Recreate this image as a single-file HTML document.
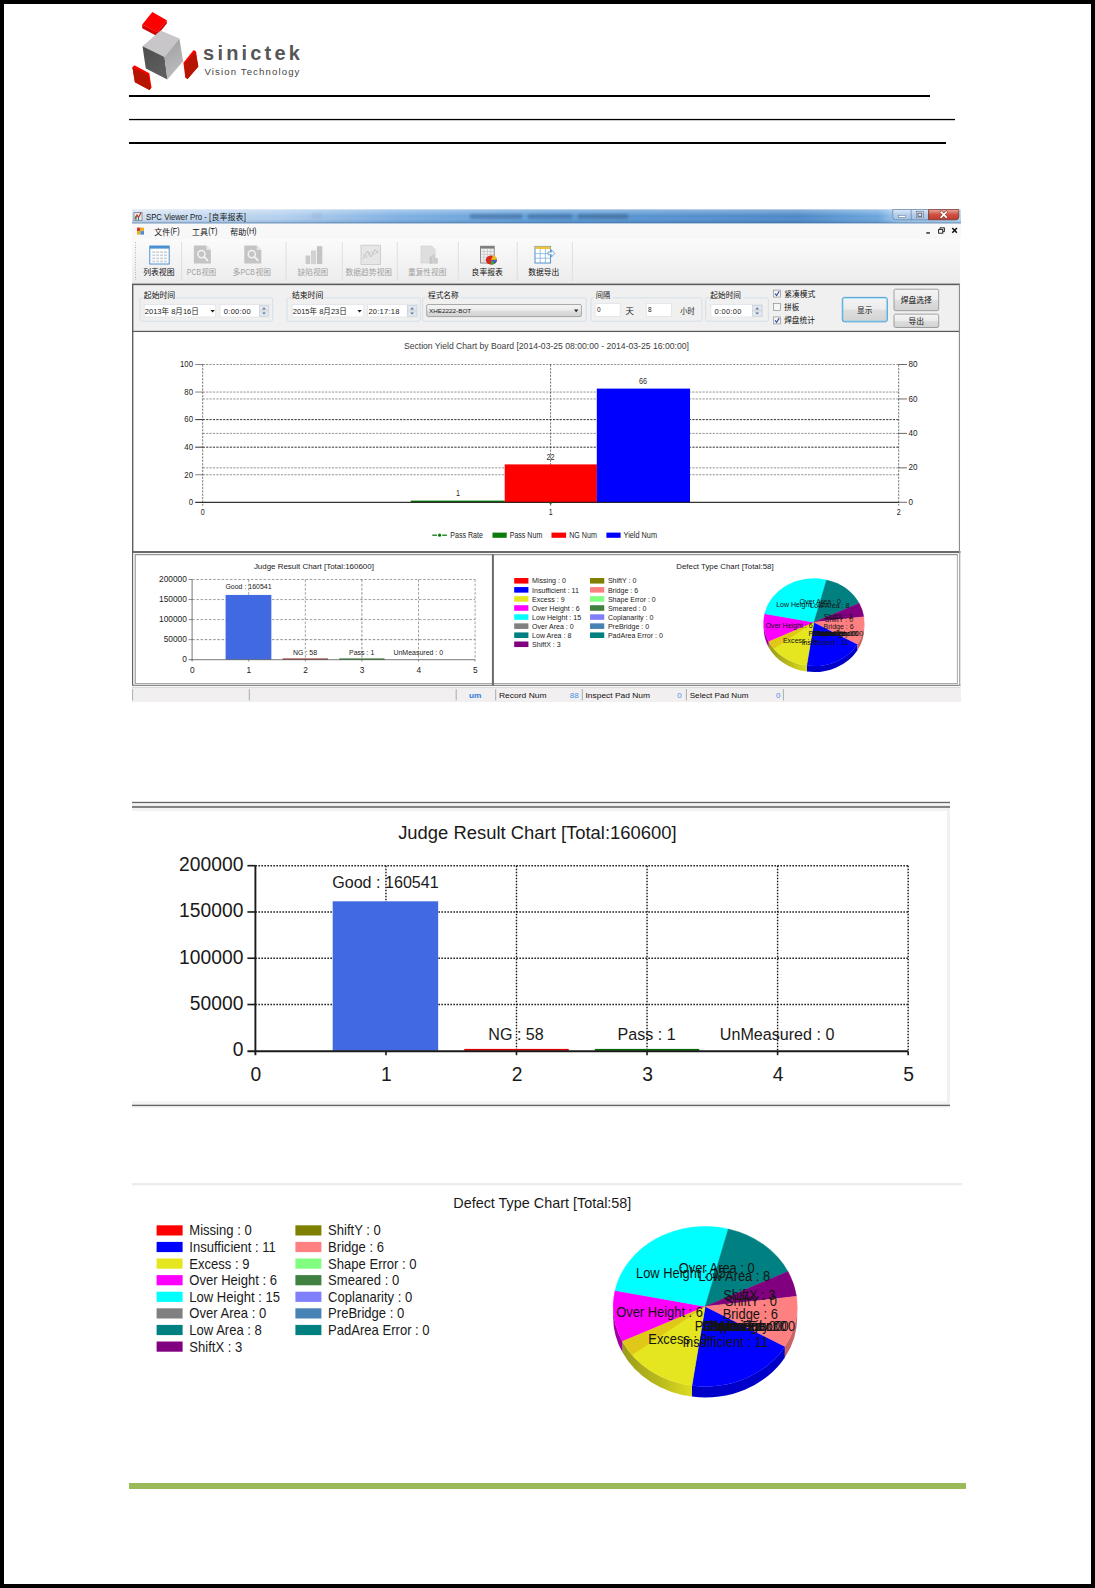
<!DOCTYPE html>
<html lang="zh"><head><meta charset="utf-8"><title>SPC Viewer Pro</title>
<style>
html,body{margin:0;padding:0;background:#fff}
body{width:1095px;height:1588px;position:relative;overflow:hidden;font-family:"Liberation Sans","Noto Sans CJK SC",sans-serif}
#frame{position:absolute;left:0;top:0;width:1095px;height:1588px;box-sizing:border-box;border:4px solid #000}
svg{position:absolute;left:0;top:0;font-family:"Liberation Sans","Noto Sans CJK SC",sans-serif}
svg text{white-space:pre}
</style></head><body>
<div id="frame"></div>
<svg width="1095" height="1588" viewBox="0 0 1095 1588">
<g id="logo">
<polygon points="142.20,24.40 142.20,28.20 156.80,35.90 166.80,23.60 166.80,20.30 157.10,32.00" fill="#d40000" />
<polygon points="152.40,12.10 166.80,20.30 157.10,32.20 142.20,24.40" fill="#ff0000" />
<defs><linearGradient id="cubeR" x1="0" y1="0" x2="0.3" y2="1"><stop offset="0" stop-color="#9e9d9f"/><stop offset="1" stop-color="#bcbbbd"/></linearGradient><linearGradient id="cubeL" x1="0" y1="0" x2="0.4" y2="1"><stop offset="0" stop-color="#4e4e4f"/><stop offset="1" stop-color="#5e5e5f"/></linearGradient></defs>
<polygon points="142.50,46.30 160.50,30.50 179.40,38.60 164.50,56.90" fill="#c8c6c8" />
<polygon points="142.50,46.30 164.50,56.90 167.40,79.40 145.80,68.60" fill="url(#cubeL)" />
<polygon points="164.50,56.90 179.40,38.60 183.10,61.30 167.40,79.40" fill="url(#cubeR)" />
<polygon points="132.40,67.20 134.50,65.20 149.30,73.20 151.50,87.60 149.50,89.90 134.90,82.30" fill="#ff0000" />
<polygon points="132.40,67.20 148.20,75.00 150.60,88.60 149.50,89.90 134.90,82.30" fill="#b51500" />
<polygon points="193.70,50.10 196.00,51.40 198.30,66.40 187.60,79.00 185.30,77.50 183.40,62.70" fill="#ff0000" />
<polygon points="195.30,51.80 198.30,66.40 187.60,79.00 185.50,77.60 184.60,63.60" fill="#b51500" />
<text x="203.10" y="59.80" font-size="20" fill="#565656" font-weight="bold" textLength="96.80" lengthAdjust="spacing">sinictek</text>
<text x="204.40" y="75.00" font-size="9.6" fill="#444" textLength="95.00" lengthAdjust="spacing">Vision Technology</text>
</g>
<rect x="129.00" y="95.00" width="801.00" height="2.00" fill="#000" />
<rect x="129.00" y="118.90" width="826.00" height="1.30" fill="#000" />
<rect x="129.00" y="142.00" width="817.00" height="2.00" fill="#000" />
<rect x="129.00" y="1483.00" width="837.00" height="6.00" fill="#9bbb59" />
<g id="app">
<defs>
<linearGradient id="tbar" x1="0" y1="0" x2="1" y2="0">
<stop offset="0" stop-color="#d3e2f3"/><stop offset="0.18" stop-color="#b4d0ee"/><stop offset="0.32" stop-color="#7fb1e3"/>
<stop offset="0.5" stop-color="#5b9ad6"/><stop offset="0.8" stop-color="#4b87c6"/><stop offset="0.9" stop-color="#6aa5dc"/><stop offset="0.925" stop-color="#a5cdf0"/><stop offset="1" stop-color="#b8d8f4"/>
</linearGradient>
<linearGradient id="tbarv" x1="0" y1="0" x2="0" y2="1"><stop offset="0" stop-color="#fff" stop-opacity="0.35"/><stop offset="0.5" stop-color="#fff" stop-opacity="0"/><stop offset="1" stop-color="#1c4f8a" stop-opacity="0.25"/></linearGradient>
<linearGradient id="tool" x1="0" y1="0" x2="0" y2="1"><stop offset="0" stop-color="#fbfbfb"/><stop offset="1" stop-color="#ececec"/></linearGradient>
<linearGradient id="btn" x1="0" y1="0" x2="0" y2="1"><stop offset="0" stop-color="#f4f4f4"/><stop offset="0.48" stop-color="#ececec"/><stop offset="0.52" stop-color="#dedede"/><stop offset="1" stop-color="#d2d2d2"/></linearGradient>
<linearGradient id="closeb" x1="0" y1="0" x2="0" y2="1"><stop offset="0" stop-color="#e9a99b"/><stop offset="0.5" stop-color="#cf5040"/><stop offset="1" stop-color="#c03a2b"/></linearGradient>
<linearGradient id="capb" x1="0" y1="0" x2="0" y2="1"><stop offset="0" stop-color="#dbe9f7"/><stop offset="0.5" stop-color="#b3cde9"/><stop offset="1" stop-color="#a4c2e2"/></linearGradient>
<filter id="blur1" x="-5%" y="-50%" width="110%" height="200%"><feGaussianBlur stdDeviation="0.9"/></filter>
</defs>
<rect x="132.00" y="209.50" width="829.00" height="492.50" fill="#f0f0f0" />
<rect x="132.00" y="209.50" width="829.00" height="13.50" fill="url(#tbar)" />
<rect x="132.00" y="209.50" width="829.00" height="13.50" fill="url(#tbarv)" />
<line x1="132.00" y1="223.20" x2="961.00" y2="223.20" stroke="#3b6ea5" stroke-width="0.8" />
<g filter="url(#blur1)" opacity="0.55"><rect x="470.00" y="214.00" width="52.00" height="5.00" fill="#41699a" /><rect x="528.00" y="214.00" width="44.00" height="5.00" fill="#41699a" /><rect x="578.00" y="214.00" width="50.00" height="5.00" fill="#3f638f" /><rect x="312.00" y="213.00" width="10.00" height="6.00" fill="#9db9dc" /></g>
<rect x="133.50" y="212.00" width="9.00" height="9.00" fill="#8a8f98" /><rect x="134.50" y="213.00" width="7.00" height="7.00" fill="#e9edf2" />
<path d="M135 219 l2 -4 l1.5 2.5 l2.5 -5" stroke="#c0392b" stroke-width="1.2" fill="none"/>
<line x1="136.00" y1="220.00" x2="136.00" y2="216.00" stroke="#2e7d32" stroke-width="1" /><line x1="138.50" y1="220.00" x2="138.50" y2="217.50" stroke="#1565c0" stroke-width="1" />
<text transform="translate(146.00 219.50) scale(0.865 1)" font-size="9" fill="#1a1a1a">SPC Viewer Pro - [</text>
<text x="211.60" y="219.60" font-size="8" fill="#1a1a1a" textLength="32.00" lengthAdjust="spacingAndGlyphs">良率报表</text>
<text transform="translate(243.80 219.50) scale(0.865 1)" font-size="9" fill="#1a1a1a">]</text>
<path d="M892.7 209.5 h36 v10.3 h-33 q-3 0 -3 -3 z" fill="url(#capb)" stroke="#5d7fa6" stroke-width="0.7"/>
<line x1="911.20" y1="209.50" x2="911.20" y2="219.80" stroke="#5d7fa6" stroke-width="0.7" />
<path d="M928.6 209.5 h30.2 v7.3 q0 3 -3 3 h-27.2 z" fill="url(#closeb)" stroke="#6b2c25" stroke-width="0.7"/>
<rect x="898.50" y="215.30" width="7.00" height="2.00" fill="#fff" stroke="#53688a" stroke-width="0.5"/>
<rect x="916.40" y="211.60" width="7.00" height="6.20" fill="#fff" stroke="#46556d" stroke-width="0.5"/><rect x="917.90" y="213.10" width="4.00" height="3.20" fill="#dfe9f5" stroke="#3a4a63" stroke-width="0.9"/>
<path d="M941.2 212.2 l5 5 M946.2 212.2 l-5 5" stroke="#7a2a22" stroke-width="2.6" stroke-linecap="square"/><path d="M941.2 212.2 l5 5 M946.2 212.2 l-5 5" stroke="#fff" stroke-width="1.7" stroke-linecap="square"/>
<rect x="132.00" y="223.60" width="829.00" height="15.00" fill="#f8f8f9" />
<rect x="137.00" y="227.60" width="3.50" height="3.50" fill="#d23a2a" /><rect x="140.50" y="227.60" width="3.50" height="3.50" fill="#e8b21d" /><rect x="137.00" y="231.10" width="3.50" height="3.50" fill="#e8b21d" /><rect x="140.50" y="231.10" width="3.50" height="3.50" fill="#4a88d8" />
<text x="154.20" y="234.60" font-size="8" fill="#111" textLength="16.00" lengthAdjust="spacingAndGlyphs">文件</text>
<text transform="translate(170.40 234.40) scale(0.800 1)" font-size="9" fill="#111">(F)</text>
<text x="192.00" y="234.60" font-size="8" fill="#111" textLength="16.00" lengthAdjust="spacingAndGlyphs">工具</text>
<text transform="translate(208.20 234.40) scale(0.800 1)" font-size="9" fill="#111">(T)</text>
<text x="230.30" y="234.60" font-size="8" fill="#111" textLength="16.00" lengthAdjust="spacingAndGlyphs">帮助</text>
<text transform="translate(246.50 234.40) scale(0.800 1)" font-size="9" fill="#111">(H)</text>
<rect x="926.30" y="232.30" width="3.60" height="1.30" fill="#111" />
<rect x="938.60" y="229.60" width="4.20" height="3.60" fill="none" stroke="#111" stroke-width="0.9"/><path d="M940 229.4 v-1.6 h4.4 v3.8 h-1.4" stroke="#111" stroke-width="0.9" fill="none"/>
<path d="M952.3 228 l4.6 4.8 M956.9 228 l-4.6 4.8" stroke="#111" stroke-width="1.5"/>
<rect x="132.00" y="238.60" width="829.00" height="45.20" fill="url(#tool)" />
<line x1="135.50" y1="242.00" x2="135.50" y2="280.00" stroke="#9a9a9a" stroke-width="0.8" stroke-dasharray="0.9 1.6"/>
<line x1="181.60" y1="242.00" x2="181.60" y2="281.00" stroke="#dcdcdc" stroke-width="0.9" />
<line x1="286.10" y1="242.00" x2="286.10" y2="281.00" stroke="#dcdcdc" stroke-width="0.9" />
<line x1="342.30" y1="242.00" x2="342.30" y2="281.00" stroke="#dcdcdc" stroke-width="0.9" />
<line x1="397.30" y1="242.00" x2="397.30" y2="281.00" stroke="#dcdcdc" stroke-width="0.9" />
<line x1="458.30" y1="242.00" x2="458.30" y2="281.00" stroke="#dcdcdc" stroke-width="0.9" />
<line x1="517.20" y1="242.00" x2="517.20" y2="281.00" stroke="#dcdcdc" stroke-width="0.9" />
<line x1="572.40" y1="242.00" x2="572.40" y2="281.00" stroke="#dcdcdc" stroke-width="0.9" />
<rect x="149.80" y="246.00" width="19.40" height="18.00" fill="#fdfdfd" stroke="#3f86c8" stroke-width="0.9"/>
<rect x="149.80" y="246.00" width="19.40" height="2.60" fill="#4a90d2" />
<rect x="152.30" y="251.30" width="2.90" height="1.70" fill="#c9d3dc" />
<rect x="156.20" y="251.30" width="2.90" height="1.70" fill="#c9d3dc" />
<rect x="160.10" y="251.30" width="2.90" height="1.70" fill="#c9d3dc" />
<rect x="164.00" y="251.30" width="2.90" height="1.70" fill="#c9d3dc" />
<rect x="152.30" y="254.40" width="2.90" height="1.70" fill="#c9d3dc" />
<rect x="156.20" y="254.40" width="2.90" height="1.70" fill="#c9d3dc" />
<rect x="160.10" y="254.40" width="2.90" height="1.70" fill="#c9d3dc" />
<rect x="164.00" y="254.40" width="2.90" height="1.70" fill="#c9d3dc" />
<rect x="152.30" y="257.50" width="2.90" height="1.70" fill="#c9d3dc" />
<rect x="156.20" y="257.50" width="2.90" height="1.70" fill="#c9d3dc" />
<rect x="160.10" y="257.50" width="2.90" height="1.70" fill="#c9d3dc" />
<rect x="164.00" y="257.50" width="2.90" height="1.70" fill="#c9d3dc" />
<rect x="152.30" y="260.60" width="2.90" height="1.70" fill="#c9d3dc" />
<rect x="156.20" y="260.60" width="2.90" height="1.70" fill="#c9d3dc" />
<rect x="160.10" y="260.60" width="2.90" height="1.70" fill="#c9d3dc" />
<rect x="164.00" y="260.60" width="2.90" height="1.70" fill="#c9d3dc" />
<text x="143.20" y="274.90" font-size="8" fill="#111" textLength="31.30" lengthAdjust="spacingAndGlyphs">列表视图</text>
<path d="M193.9 245.6 h12.5 l4.5 4.5 v13.5 h-17 z" fill="#c4c4c4"/><path d="M206.4 245.6 v4.5 h4.5 z" fill="#e6e6e6"/><circle cx="201.4" cy="254.1" r="3.6" fill="none" stroke="#f4f4f4" stroke-width="1.4"/><line x1="204.20" y1="256.90" x2="207.90" y2="260.80" stroke="#f4f4f4" stroke-width="1.8" />
<text transform="translate(186.80 274.70) scale(0.780 1)" font-size="9" fill="#a2a2a2">PCB</text>
<text x="201.40" y="274.90" font-size="8" fill="#a2a2a2" textLength="14.80" lengthAdjust="spacingAndGlyphs">视图</text>
<path d="M244.3 245.6 h12.5 l4.5 4.5 v13.5 h-17 z" fill="#c4c4c4"/><path d="M256.8 245.6 v4.5 h4.5 z" fill="#e6e6e6"/><circle cx="251.8" cy="254.1" r="3.6" fill="none" stroke="#f4f4f4" stroke-width="1.4"/><line x1="254.60" y1="256.90" x2="258.30" y2="260.80" stroke="#f4f4f4" stroke-width="1.8" />
<text x="232.40" y="274.90" font-size="8" fill="#a2a2a2">多</text>
<text transform="translate(240.60 274.70) scale(0.780 1)" font-size="9" fill="#a2a2a2">PCB</text>
<text x="255.40" y="274.90" font-size="8" fill="#a2a2a2" textLength="15.60" lengthAdjust="spacingAndGlyphs">视图</text>
<rect x="305.60" y="255.50" width="4.60" height="8.60" fill="#c9c9c9" /><rect x="311.00" y="250.50" width="5.00" height="13.60" fill="#d2d2d2" /><rect x="316.90" y="246.20" width="5.40" height="17.90" fill="#c4c4c4" />
<text x="297.60" y="274.90" font-size="8" fill="#a2a2a2" textLength="30.70" lengthAdjust="spacingAndGlyphs">缺陷视图</text>
<rect x="361.00" y="245.20" width="19.40" height="19.20" fill="#e6e6e6" stroke="#c6c6c6" stroke-width="0.8"/>
<path d="M363 259 l4.5 -8 l3.5 6 l4 -7.5 l3.5 4" stroke="#bdbdbd" stroke-width="0.9" fill="none"/>
<path d="M363 254 l3 4 l5 -6.5 l3.5 3 l4 -4" stroke="#c9c9c9" stroke-width="0.8" fill="none"/>
<text x="345.50" y="274.90" font-size="8" fill="#a2a2a2" textLength="46.50" lengthAdjust="spacingAndGlyphs">数据趋势视图</text>
<path d="M421 246 h10.5 l3.6 3.6 v13.4 h-14.1 z" fill="#dedede" stroke="#cfcfcf" stroke-width="0.6"/>
<rect x="429.50" y="256.50" width="2.60" height="7.20" fill="#c6c6c6" /><rect x="432.40" y="254.40" width="2.60" height="9.30" fill="#cdcdcd" /><rect x="435.30" y="258.00" width="2.40" height="5.70" fill="#c6c6c6" />
<text x="407.90" y="274.90" font-size="8" fill="#a2a2a2" textLength="38.70" lengthAdjust="spacingAndGlyphs">重复性视图</text>
<rect x="480.60" y="246.20" width="13.60" height="16.80" fill="#f2f2f2" stroke="#6e6e6e" stroke-width="0.8"/>
<rect x="480.60" y="246.20" width="13.60" height="2.40" fill="#7c7c7c" />
<line x1="484.00" y1="248.60" x2="484.00" y2="263.00" stroke="#b0b0b0" stroke-width="0.5" />
<line x1="487.40" y1="248.60" x2="487.40" y2="263.00" stroke="#b0b0b0" stroke-width="0.5" />
<line x1="490.80" y1="248.60" x2="490.80" y2="263.00" stroke="#b0b0b0" stroke-width="0.5" />
<line x1="480.60" y1="251.50" x2="494.20" y2="251.50" stroke="#b0b0b0" stroke-width="0.5" />
<line x1="480.60" y1="254.40" x2="494.20" y2="254.40" stroke="#b0b0b0" stroke-width="0.5" />
<line x1="480.60" y1="257.30" x2="494.20" y2="257.30" stroke="#b0b0b0" stroke-width="0.5" />
<line x1="480.60" y1="260.20" x2="494.20" y2="260.20" stroke="#b0b0b0" stroke-width="0.5" />
<ellipse cx="491.3" cy="260" rx="5.6" ry="4.6" fill="#d9281f"/>
<path d="M491.3 260 l1.6 -4.4 a5.6 4.6 0 0 1 3.9 4 z" fill="#e8c21a"/><path d="M491.3 260 l4 3.2 a5.6 4.6 0 0 1 -4.6 1.4 z" fill="#3aa23a"/><path d="M491.3 260 h5.5 a5.6 4.6 0 0 1 -1.4 3.2 z" fill="#2f62c9"/>
<text x="471.60" y="274.90" font-size="8" fill="#111" textLength="31.20" lengthAdjust="spacingAndGlyphs">良率报表</text>
<rect x="535.00" y="246.40" width="15.60" height="16.60" fill="#ffffff" stroke="#3f86c8" stroke-width="0.9"/>
<rect x="535.00" y="246.40" width="15.60" height="2.60" fill="#f0c347" />
<line x1="540.20" y1="249.00" x2="540.20" y2="263.00" stroke="#6ea7dc" stroke-width="0.7" /><line x1="545.40" y1="249.00" x2="545.40" y2="263.00" stroke="#6ea7dc" stroke-width="0.7" />
<line x1="535.00" y1="253.60" x2="550.60" y2="253.60" stroke="#6ea7dc" stroke-width="0.7" /><line x1="535.00" y1="258.20" x2="550.60" y2="258.20" stroke="#6ea7dc" stroke-width="0.7" />
<path d="M548 252 h3.4 v-2.2 l3.4 3.6 l-3.4 3.6 v-2.2 h-3.4 z" fill="#f4f8fc" stroke="#3f86c8" stroke-width="0.7"/>
<text x="528.30" y="274.90" font-size="8" fill="#111" textLength="31.10" lengthAdjust="spacingAndGlyphs">数据导出</text>
<rect x="132.00" y="283.60" width="828.50" height="1.80" fill="#5a5a5a" />
<rect x="133.00" y="285.40" width="826.00" height="45.40" fill="#f0f0f0" />
<rect x="140.00" y="297.80" width="132.70" height="23.40" fill="none" stroke="#d3dde6" stroke-width="0.9" rx="1.5"/>
<rect x="143.00" y="291.00" width="33.60" height="9.00" fill="#f0f0f0" />
<text x="143.80" y="298.20" font-size="8" fill="#111" textLength="31.40" lengthAdjust="spacingAndGlyphs">起始时间</text>
<rect x="144.20" y="304.50" width="71.30" height="12.50" fill="#fff" stroke="#dfe3e8" stroke-width="0.8"/>
<text x="144.80" y="313.60" font-size="7.5" fill="#222" textLength="54.00" lengthAdjust="spacingAndGlyphs">2013年 8月16日</text>
<path d="M210.4 310 h4.4 l-2.2 2.6 z" fill="#222"/>
<rect x="220.00" y="304.50" width="49.80" height="12.50" fill="#fff" stroke="#dfe3e8" stroke-width="0.8"/>
<text x="223.80" y="313.60" font-size="7.5" fill="#222" textLength="26.80" lengthAdjust="spacing">0:00:00</text>
<rect x="259.40" y="305.40" width="9.20" height="10.80" fill="#e3e7ec" stroke="#b9c2cc" stroke-width="0.5"/>
<line x1="259.40" y1="310.80" x2="268.60" y2="310.80" stroke="#b9c2cc" stroke-width="0.5" />
<path d="M262.1 309.4 l1.9 -2.2 l1.9 2.2 z M262.1 312.4 l1.9 2.2 l1.9 -2.2 z" fill="#4f78a8"/>
<rect x="287.00" y="297.80" width="133.30" height="23.40" fill="none" stroke="#d3dde6" stroke-width="0.9" rx="1.5"/>
<rect x="291.00" y="291.00" width="33.60" height="9.00" fill="#f0f0f0" />
<text x="291.90" y="298.20" font-size="8" fill="#111" textLength="31.40" lengthAdjust="spacingAndGlyphs">结束时间</text>
<rect x="292.20" y="304.50" width="71.60" height="12.50" fill="#fff" stroke="#dfe3e8" stroke-width="0.8"/>
<text x="292.80" y="313.60" font-size="7.5" fill="#222" textLength="54.00" lengthAdjust="spacingAndGlyphs">2015年 8月23日</text>
<path d="M357.4 310 h4.4 l-2.2 2.6 z" fill="#222"/>
<rect x="367.60" y="304.50" width="50.30" height="12.50" fill="#fff" stroke="#dfe3e8" stroke-width="0.8"/>
<text x="368.40" y="313.60" font-size="7.5" fill="#222" textLength="31.00" lengthAdjust="spacing">20:17:18</text>
<rect x="407.20" y="305.40" width="9.80" height="10.80" fill="#e3e7ec" stroke="#b9c2cc" stroke-width="0.5"/>
<line x1="407.20" y1="310.80" x2="417.00" y2="310.80" stroke="#b9c2cc" stroke-width="0.5" />
<path d="M410.2 309.4 l1.9 -2.2 l1.9 2.2 z M410.2 312.4 l1.9 2.2 l1.9 -2.2 z" fill="#4f78a8"/>
<rect x="422.60" y="297.80" width="163.60" height="23.40" fill="none" stroke="#d3dde6" stroke-width="0.9" rx="1.5"/>
<rect x="427.00" y="291.00" width="33.60" height="9.00" fill="#f0f0f0" />
<text x="428.00" y="298.20" font-size="8" fill="#111" textLength="30.70" lengthAdjust="spacingAndGlyphs">程式名称</text>
<rect x="426.70" y="304.50" width="154.70" height="12.10" fill="url(#btn)" stroke="#8b8b8b" stroke-width="0.7" rx="1.4"/>
<text x="429.00" y="312.80" font-size="6" fill="#222" textLength="42.20" lengthAdjust="spacingAndGlyphs">XHE2222-BOT</text>
<path d="M574 309.6 h4.4 l-2.2 2.6 z" fill="#222"/>
<rect x="591.00" y="297.80" width="110.90" height="23.40" fill="none" stroke="#d3dde6" stroke-width="0.9" rx="1.5"/>
<rect x="594.60" y="291.00" width="17.60" height="9.00" fill="#f0f0f0" />
<text x="595.80" y="298.20" font-size="8" fill="#111" textLength="14.40" lengthAdjust="spacingAndGlyphs">间隔</text>
<rect x="595.20" y="303.60" width="25.00" height="12.80" fill="#fff" stroke="#dfe3e8" stroke-width="0.8"/>
<text x="597.00" y="311.60" font-size="6.5" fill="#222">0</text>
<text x="625.60" y="314.20" font-size="8.4" fill="#222">天</text>
<rect x="646.30" y="303.60" width="25.30" height="12.80" fill="#fff" stroke="#dfe3e8" stroke-width="0.8"/>
<text x="648.00" y="311.60" font-size="6.5" fill="#222">8</text>
<text x="680.20" y="314.20" font-size="8" fill="#222" textLength="14.40" lengthAdjust="spacingAndGlyphs">小时</text>
<rect x="705.70" y="297.80" width="62.70" height="23.40" fill="none" stroke="#d3dde6" stroke-width="0.9" rx="1.5"/>
<rect x="709.40" y="291.00" width="33.60" height="9.00" fill="#f0f0f0" />
<text x="710.30" y="298.20" font-size="8" fill="#111" textLength="30.70" lengthAdjust="spacingAndGlyphs">起始时间</text>
<rect x="710.90" y="304.50" width="51.80" height="12.50" fill="#fff" stroke="#dfe3e8" stroke-width="0.8"/>
<text x="714.60" y="313.60" font-size="7.5" fill="#222" textLength="26.80" lengthAdjust="spacing">0:00:00</text>
<rect x="752.40" y="305.40" width="9.60" height="10.80" fill="#e3e7ec" stroke="#b9c2cc" stroke-width="0.5"/>
<line x1="752.40" y1="310.80" x2="762.00" y2="310.80" stroke="#b9c2cc" stroke-width="0.5" />
<path d="M755.3 309.4 l1.9 -2.2 l1.9 2.2 z M755.3 312.4 l1.9 2.2 l1.9 -2.2 z" fill="#4f78a8"/>
<rect x="773.40" y="290.10" width="7.00" height="7.00" fill="#f6f6f6" stroke="#8e8f8f" stroke-width="0.7"/>
<path d="M775 293.6 l1.6 1.9 l2.6 -4.2" stroke="#33489c" stroke-width="1.1" fill="none"/>
<text x="784.20" y="296.50" font-size="8" fill="#111" textLength="31.20" lengthAdjust="spacingAndGlyphs">紧凑模式</text>
<rect x="773.40" y="303.50" width="7.00" height="7.00" fill="#f6f6f6" stroke="#8e8f8f" stroke-width="0.7"/>
<text x="784.20" y="309.90" font-size="8" fill="#111" textLength="15.00" lengthAdjust="spacingAndGlyphs">拼板</text>
<rect x="773.40" y="316.90" width="7.00" height="7.00" fill="#f6f6f6" stroke="#8e8f8f" stroke-width="0.7"/>
<path d="M775 320.4 l1.6 1.9 l2.6 -4.2" stroke="#33489c" stroke-width="1.1" fill="none"/>
<text x="784.20" y="323.30" font-size="8" fill="#111" textLength="30.60" lengthAdjust="spacingAndGlyphs">焊盘统计</text>
<rect x="842.30" y="297.40" width="45.00" height="24.40" fill="url(#btn)" stroke="#3c8fd0" stroke-width="0.9" rx="2"/>
<rect x="843.20" y="298.30" width="43.20" height="22.60" fill="none" stroke="#6fd4f5" stroke-width="0.8" rx="1.5" opacity="0.8"/>
<text x="864.80" y="313.20" font-size="8" text-anchor="middle" fill="#111" textLength="15.40" lengthAdjust="spacingAndGlyphs">显示</text>
<rect x="894.00" y="289.20" width="44.70" height="21.50" fill="url(#btn)" stroke="#8b8b8b" stroke-width="0.8" rx="1.6"/>
<text x="916.30" y="303.20" font-size="8" text-anchor="middle" fill="#111" textLength="31.00" lengthAdjust="spacingAndGlyphs">焊盘选择</text>
<rect x="894.00" y="314.10" width="44.70" height="13.40" fill="url(#btn)" stroke="#8b8b8b" stroke-width="0.8" rx="1.6"/>
<text x="916.30" y="323.80" font-size="8" text-anchor="middle" fill="#111" textLength="15.60" lengthAdjust="spacingAndGlyphs">导出</text>
<rect x="132.00" y="330.80" width="828.00" height="1.40" fill="#5a5a5a" />
<rect x="133.00" y="332.20" width="825.80" height="219.20" fill="#fff" />
<rect x="132.00" y="284.00" width="1.40" height="268.00" fill="#5f5f5f" />
<rect x="958.90" y="284.00" width="1.20" height="268.00" fill="#8c8c8c" />
<rect x="960.10" y="238.00" width="1.00" height="448.00" fill="#ffffff" />
<text x="546.40" y="349.20" font-size="8.4" text-anchor="middle" fill="#3c3c3c" textLength="285.00" lengthAdjust="spacingAndGlyphs">Section Yield Chart by Board [2014-03-25 08:00:00 - 2014-03-25 16:00:00]</text>
<line x1="202.70" y1="364.50" x2="898.70" y2="364.50" stroke="#3a3a3a" stroke-width="0.55" stroke-dasharray="2.2 1.2"/>
<line x1="195.20" y1="364.50" x2="202.70" y2="364.50" stroke="#1c1c1c" stroke-width="0.55" />
<text transform="translate(193.00 367.30) scale(0.850 1)" font-size="9.2" text-anchor="end" fill="#1c1c1c">100</text>
<line x1="202.70" y1="392.06" x2="898.70" y2="392.06" stroke="#3a3a3a" stroke-width="0.55" stroke-dasharray="2.2 1.2"/>
<line x1="195.20" y1="392.06" x2="202.70" y2="392.06" stroke="#1c1c1c" stroke-width="0.55" />
<text transform="translate(193.00 394.86) scale(0.850 1)" font-size="9.2" text-anchor="end" fill="#1c1c1c">80</text>
<line x1="202.70" y1="419.62" x2="898.70" y2="419.62" stroke="#1c1c1c" stroke-width="0.9" stroke-dasharray="2.2 1.2"/>
<line x1="195.20" y1="419.62" x2="202.70" y2="419.62" stroke="#1c1c1c" stroke-width="0.9" />
<text transform="translate(193.00 422.42) scale(0.850 1)" font-size="9.2" text-anchor="end" fill="#1c1c1c">60</text>
<line x1="202.70" y1="447.18" x2="898.70" y2="447.18" stroke="#1c1c1c" stroke-width="0.9" stroke-dasharray="2.2 1.2"/>
<line x1="195.20" y1="447.18" x2="202.70" y2="447.18" stroke="#1c1c1c" stroke-width="0.9" />
<text transform="translate(193.00 449.98) scale(0.850 1)" font-size="9.2" text-anchor="end" fill="#1c1c1c">40</text>
<line x1="202.70" y1="474.74" x2="898.70" y2="474.74" stroke="#3a3a3a" stroke-width="0.55" stroke-dasharray="2.2 1.2"/>
<line x1="195.20" y1="474.74" x2="202.70" y2="474.74" stroke="#1c1c1c" stroke-width="0.55" />
<text transform="translate(193.00 477.54) scale(0.850 1)" font-size="9.2" text-anchor="end" fill="#1c1c1c">20</text>
<line x1="898.70" y1="364.50" x2="907.00" y2="364.50" stroke="#1c1c1c" stroke-width="0.65" />
<text transform="translate(908.60 367.10) scale(0.880 1)" font-size="9.2" fill="#1c1c1c">80</text>
<line x1="202.70" y1="398.95" x2="898.70" y2="398.95" stroke="#3a3a3a" stroke-width="0.55" stroke-dasharray="2.2 1.2"/>
<line x1="898.70" y1="398.95" x2="907.00" y2="398.95" stroke="#1c1c1c" stroke-width="0.65" />
<text transform="translate(908.60 401.55) scale(0.880 1)" font-size="9.2" fill="#1c1c1c">60</text>
<line x1="202.70" y1="433.40" x2="898.70" y2="433.40" stroke="#3a3a3a" stroke-width="0.55" stroke-dasharray="2.2 1.2"/>
<line x1="898.70" y1="433.40" x2="907.00" y2="433.40" stroke="#1c1c1c" stroke-width="0.65" />
<text transform="translate(908.60 436.00) scale(0.880 1)" font-size="9.2" fill="#1c1c1c">40</text>
<line x1="202.70" y1="467.85" x2="898.70" y2="467.85" stroke="#3a3a3a" stroke-width="0.55" stroke-dasharray="2.2 1.2"/>
<line x1="898.70" y1="467.85" x2="907.00" y2="467.85" stroke="#1c1c1c" stroke-width="0.65" />
<text transform="translate(908.60 470.45) scale(0.880 1)" font-size="9.2" fill="#1c1c1c">20</text>
<line x1="898.70" y1="502.30" x2="907.00" y2="502.30" stroke="#1c1c1c" stroke-width="0.65" />
<text transform="translate(908.60 504.90) scale(0.880 1)" font-size="9.2" fill="#1c1c1c">0</text>
<text transform="translate(193.00 505.10) scale(0.850 1)" font-size="9.2" text-anchor="end" fill="#1c1c1c">0</text>
<line x1="202.70" y1="364.50" x2="202.70" y2="505.70" stroke="#1c1c1c" stroke-width="0.6" stroke-dasharray="2.2 1.2"/>
<line x1="550.60" y1="364.50" x2="550.60" y2="505.70" stroke="#1c1c1c" stroke-width="0.6" stroke-dasharray="2.2 1.2"/>
<line x1="898.70" y1="364.50" x2="898.70" y2="505.70" stroke="#1c1c1c" stroke-width="0.6" stroke-dasharray="2.2 1.2"/>
<rect x="410.80" y="500.60" width="94.00" height="1.50" fill="#0a7a0a" />
<rect x="504.70" y="464.40" width="92.20" height="37.90" fill="#ff0000" />
<rect x="596.80" y="388.60" width="93.20" height="113.70" fill="#0000ff" />
<line x1="195.20" y1="502.30" x2="898.70" y2="502.30" stroke="#000" stroke-width="1" />
<circle cx="550.6" cy="503.3" r="1.1" fill="#0a7a0a"/>
<text transform="translate(458.00 496.00) scale(0.840 1)" font-size="8.6" text-anchor="middle" fill="#2a2a2a">1</text>
<text transform="translate(550.40 459.60) scale(0.840 1)" font-size="8.6" text-anchor="middle" fill="#2a2a2a">22</text>
<text transform="translate(643.00 383.60) scale(0.840 1)" font-size="8.6" text-anchor="middle" fill="#2a2a2a">66</text>
<text transform="translate(202.70 515.20) scale(0.840 1)" font-size="8.4" text-anchor="middle" fill="#1c1c1c">0</text>
<text transform="translate(550.60 515.20) scale(0.840 1)" font-size="8.4" text-anchor="middle" fill="#1c1c1c">1</text>
<text transform="translate(898.70 515.20) scale(0.840 1)" font-size="8.4" text-anchor="middle" fill="#1c1c1c">2</text>
<line x1="432.30" y1="535.20" x2="436.90" y2="535.20" stroke="#0a7a0a" stroke-width="1.3" /><line x1="442.30" y1="535.20" x2="446.90" y2="535.20" stroke="#0a7a0a" stroke-width="1.3" /><circle cx="439.6" cy="535.2" r="1.6" fill="#0a7a0a"/>
<text x="450.30" y="537.80" font-size="8.2" fill="#1c1c1c" textLength="32.60" lengthAdjust="spacingAndGlyphs">Pass Rate</text>
<rect x="492.50" y="532.60" width="14.20" height="5.20" fill="#0a7a0a" />
<text x="509.70" y="537.80" font-size="8.2" fill="#1c1c1c" textLength="32.60" lengthAdjust="spacingAndGlyphs">Pass Num</text>
<rect x="551.50" y="532.60" width="14.60" height="5.20" fill="#ff0000" />
<text x="569.20" y="537.80" font-size="8.2" fill="#1c1c1c" textLength="27.60" lengthAdjust="spacingAndGlyphs">NG Num</text>
<rect x="606.40" y="532.60" width="14.20" height="5.20" fill="#0000ff" />
<text x="623.60" y="537.80" font-size="8.2" fill="#1c1c1c" textLength="33.40" lengthAdjust="spacingAndGlyphs">Yield Num</text>
<rect x="132.00" y="552.80" width="828.40" height="133.20" fill="#fff" />
<rect x="132.00" y="551.00" width="828.40" height="2.00" fill="#6a6a6a" />
<rect x="132.00" y="553.00" width="828.40" height="1.20" fill="#f4f4f4" />
<rect x="134.60" y="554.20" width="823.20" height="1.00" fill="#7d7d7d" />
<rect x="132.00" y="551.00" width="1.30" height="135.00" fill="#5f5f5f" />
<rect x="133.30" y="553.00" width="1.40" height="131.60" fill="#f0f0f0" />
<rect x="134.70" y="554.20" width="1.10" height="129.80" fill="#9a9a9a" />
<rect x="134.70" y="683.00" width="823.20" height="1.00" fill="#aaaaaa" />
<rect x="132.00" y="684.70" width="828.40" height="1.30" fill="#8a8a8a" />
<rect x="956.90" y="554.20" width="1.00" height="129.80" fill="#aaaaaa" />
<rect x="959.10" y="551.00" width="1.20" height="135.00" fill="#a4a4a4" />
<rect x="491.90" y="554.20" width="2.00" height="131.20" fill="#6a6a6a" />
<line x1="192.10" y1="639.65" x2="475.10" y2="639.65" stroke="#222" stroke-width="0.5" stroke-dasharray="2.6 1.6"/>
<line x1="192.10" y1="619.60" x2="475.10" y2="619.60" stroke="#444" stroke-width="0.5" stroke-dasharray="2.6 1.6"/>
<line x1="192.10" y1="599.55" x2="475.10" y2="599.55" stroke="#444" stroke-width="0.5" stroke-dasharray="2.6 1.6"/>
<line x1="192.10" y1="579.50" x2="475.10" y2="579.50" stroke="#444" stroke-width="0.5" stroke-dasharray="2.6 1.6"/>
<line x1="248.70" y1="579.50" x2="248.70" y2="659.70" stroke="#444" stroke-width="0.5" stroke-dasharray="2.6 1.6"/>
<line x1="305.30" y1="579.50" x2="305.30" y2="659.70" stroke="#444" stroke-width="0.5" stroke-dasharray="2.6 1.6"/>
<line x1="361.90" y1="579.50" x2="361.90" y2="659.70" stroke="#222" stroke-width="0.5" stroke-dasharray="2.6 1.6"/>
<line x1="418.50" y1="579.50" x2="418.50" y2="659.70" stroke="#444" stroke-width="0.5" stroke-dasharray="2.6 1.6"/>
<line x1="475.10" y1="579.50" x2="475.10" y2="659.70" stroke="#444" stroke-width="0.5" stroke-dasharray="2.6 1.6"/>
<rect x="225.61" y="594.94" width="45.73" height="64.76" fill="#4169e1" />
<rect x="282.66" y="658.50" width="45.28" height="1.20" fill="#8b1a1a" />
<rect x="339.26" y="658.50" width="45.28" height="1.20" fill="#0a6a0a" />
<line x1="192.10" y1="579.50" x2="192.10" y2="661.44" stroke="#555" stroke-width="0.8" />
<line x1="188.63" y1="659.70" x2="475.10" y2="659.70" stroke="#555" stroke-width="0.8" />
<line x1="188.63" y1="639.65" x2="192.10" y2="639.65" stroke="#555" stroke-width="0.68" />
<line x1="188.63" y1="619.60" x2="192.10" y2="619.60" stroke="#555" stroke-width="0.68" />
<line x1="188.63" y1="599.55" x2="192.10" y2="599.55" stroke="#555" stroke-width="0.68" />
<line x1="188.63" y1="579.50" x2="192.10" y2="579.50" stroke="#555" stroke-width="0.68" />
<line x1="248.70" y1="659.70" x2="248.70" y2="661.44" stroke="#555" stroke-width="0.68" />
<line x1="305.30" y1="659.70" x2="305.30" y2="661.44" stroke="#555" stroke-width="0.68" />
<line x1="361.90" y1="659.70" x2="361.90" y2="661.44" stroke="#555" stroke-width="0.68" />
<line x1="418.50" y1="659.70" x2="418.50" y2="661.44" stroke="#555" stroke-width="0.68" />
<line x1="475.10" y1="659.70" x2="475.10" y2="661.44" stroke="#555" stroke-width="0.68" />
<text transform="translate(186.89 662.09) scale(0.918 1)" font-size="9.11" text-anchor="end" fill="#1a1a1a">0</text>
<text transform="translate(186.89 642.04) scale(0.918 1)" font-size="9.11" text-anchor="end" fill="#1a1a1a">50000</text>
<text transform="translate(186.89 621.99) scale(0.918 1)" font-size="9.11" text-anchor="end" fill="#1a1a1a">100000</text>
<text transform="translate(186.89 601.94) scale(0.918 1)" font-size="9.11" text-anchor="end" fill="#1a1a1a">150000</text>
<text transform="translate(186.89 581.89) scale(0.918 1)" font-size="9.11" text-anchor="end" fill="#1a1a1a">200000</text>
<text transform="translate(192.32 672.72) scale(0.918 1)" font-size="9.11" text-anchor="middle" fill="#1a1a1a">0</text>
<text transform="translate(248.92 672.72) scale(0.918 1)" font-size="9.11" text-anchor="middle" fill="#1a1a1a">1</text>
<text transform="translate(305.52 672.72) scale(0.918 1)" font-size="9.11" text-anchor="middle" fill="#1a1a1a">2</text>
<text transform="translate(362.12 672.72) scale(0.918 1)" font-size="9.11" text-anchor="middle" fill="#1a1a1a">3</text>
<text transform="translate(418.72 672.72) scale(0.918 1)" font-size="9.11" text-anchor="middle" fill="#1a1a1a">4</text>
<text transform="translate(475.32 672.72) scale(0.918 1)" font-size="9.11" text-anchor="middle" fill="#1a1a1a">5</text>
<text transform="translate(248.48 589.34) scale(0.937 1)" font-size="7.46" text-anchor="middle" fill="#1a1a1a">Good : 160541</text>
<text transform="translate(305.08 654.84) scale(0.937 1)" font-size="7.46" text-anchor="middle" fill="#1a1a1a">NG : 58</text>
<text transform="translate(361.68 654.84) scale(0.937 1)" font-size="7.46" text-anchor="middle" fill="#1a1a1a">Pass : 1</text>
<text transform="translate(418.28 654.84) scale(0.937 1)" font-size="7.46" text-anchor="middle" fill="#1a1a1a">UnMeasured : 0</text>
<text x="313.90" y="568.60" font-size="8" text-anchor="middle" fill="#1a1a1a" textLength="120.00" lengthAdjust="spacingAndGlyphs">Judge Result Chart [Total:160600]</text>
<defs><linearGradient id="ysides" x1="0" y1="0" x2="1" y2="0"><stop offset="0" stop-color="#9c9c1c"/><stop offset="0.5" stop-color="#b8b81c"/><stop offset="1" stop-color="#dcdc20"/></linearGradient></defs>
<rect x="514.20" y="578.00" width="14.21" height="5.57" fill="#ff0000" />
<text transform="translate(532.07 583.46) scale(0.920 1)" font-size="7.7" fill="#1a1a1a">Missing : 0</text>
<rect x="514.20" y="587.07" width="14.21" height="5.57" fill="#0000ff" />
<text transform="translate(532.07 592.53) scale(0.920 1)" font-size="7.7" fill="#1a1a1a">Insufficient : 11</text>
<rect x="514.20" y="596.14" width="14.21" height="5.57" fill="#e6e620" />
<text transform="translate(532.07 601.60) scale(0.920 1)" font-size="7.7" fill="#1a1a1a">Excess : 9</text>
<rect x="514.20" y="605.21" width="14.21" height="5.57" fill="#ff00ff" />
<text transform="translate(532.07 610.67) scale(0.920 1)" font-size="7.7" fill="#1a1a1a">Over Height : 6</text>
<rect x="514.20" y="614.28" width="14.21" height="5.57" fill="#00ffff" />
<text transform="translate(532.07 619.74) scale(0.920 1)" font-size="7.7" fill="#1a1a1a">Low Height : 15</text>
<rect x="514.20" y="623.35" width="14.21" height="5.57" fill="#808080" />
<text transform="translate(532.07 628.82) scale(0.920 1)" font-size="7.7" fill="#1a1a1a">Over Area : 0</text>
<rect x="514.20" y="632.42" width="14.21" height="5.57" fill="#008080" />
<text transform="translate(532.07 637.89) scale(0.920 1)" font-size="7.7" fill="#1a1a1a">Low Area : 8</text>
<rect x="514.20" y="641.49" width="14.21" height="5.57" fill="#800080" />
<text transform="translate(532.07 646.96) scale(0.920 1)" font-size="7.7" fill="#1a1a1a">ShiftX : 3</text>
<rect x="590.04" y="578.00" width="14.21" height="5.57" fill="#808000" />
<text transform="translate(607.91 583.46) scale(0.920 1)" font-size="7.7" fill="#1a1a1a">ShiftY : 0</text>
<rect x="590.04" y="587.07" width="14.21" height="5.57" fill="#ff8080" />
<text transform="translate(607.91 592.53) scale(0.920 1)" font-size="7.7" fill="#1a1a1a">Bridge : 6</text>
<rect x="590.04" y="596.14" width="14.21" height="5.57" fill="#80ff80" />
<text transform="translate(607.91 601.60) scale(0.920 1)" font-size="7.7" fill="#1a1a1a">Shape Error : 0</text>
<rect x="590.04" y="605.21" width="14.21" height="5.57" fill="#408040" />
<text transform="translate(607.91 610.67) scale(0.920 1)" font-size="7.7" fill="#1a1a1a">Smeared : 0</text>
<rect x="590.04" y="614.28" width="14.21" height="5.57" fill="#8080ff" />
<text transform="translate(607.91 619.74) scale(0.920 1)" font-size="7.7" fill="#1a1a1a">Coplanarity : 0</text>
<rect x="590.04" y="623.35" width="14.21" height="5.57" fill="#4682b4" />
<text transform="translate(607.91 628.82) scale(0.920 1)" font-size="7.7" fill="#1a1a1a">PreBridge : 0</text>
<rect x="590.04" y="632.42" width="14.21" height="5.57" fill="#008080" />
<text transform="translate(607.91 637.89) scale(0.920 1)" font-size="7.7" fill="#1a1a1a">PadArea Error : 0</text>
<text x="724.95" y="568.66" font-size="8" text-anchor="middle" fill="#1a1a1a" textLength="97.31" lengthAdjust="spacingAndGlyphs">Defect Type Chart [Total:58]</text>
<path d="M857.49 644.17 A50.27 43.71 0 0 1 806.72 665.57 L806.72 671.58 A50.27 43.71 0 0 0 857.49 650.18 Z" fill="#0000c8"/>
<path d="M806.72 665.57 A50.27 43.71 0 0 1 768.72 641.38 L768.72 647.39 A50.27 43.71 0 0 0 806.72 671.58 Z" fill="url(#ysides)"/>
<path d="M768.72 641.38 A50.27 43.71 0 0 1 763.69 622.31 L763.69 628.32 A50.27 43.71 0 0 0 768.72 647.39 Z" fill="#a000a0"/>
<path d="M864.22 622.31 A50.27 43.71 0 0 1 857.49 644.17 L857.49 650.18 A50.27 43.71 0 0 0 864.22 628.32 Z" fill="#c86464"/>
<path d="M813.96 622.31 L857.49 644.17 A50.27 43.71 0 0 1 806.72 665.57 Z" fill="#0000ff" stroke="#0000ff" stroke-width="0.4"/>
<path d="M813.96 622.31 L806.72 665.57 A50.27 43.71 0 0 1 768.72 641.38 Z" fill="#e6e620" stroke="#e6e620" stroke-width="0.4"/>
<path d="M813.96 622.31 L768.72 641.38 A50.27 43.71 0 0 1 764.67 613.69 Z" fill="#ff00ff" stroke="#ff00ff" stroke-width="0.4"/>
<path d="M813.96 622.31 L764.67 613.69 A50.27 43.71 0 0 1 826.53 579.99 Z" fill="#00ffff" stroke="#00ffff" stroke-width="0.4"/>
<path d="M813.96 622.31 L826.53 579.99 A50.27 43.71 0 0 1 859.19 603.25 Z" fill="#008080" stroke="#008080" stroke-width="0.4"/>
<path d="M813.96 622.31 L859.19 603.25 A50.27 43.71 0 0 1 863.82 616.80 Z" fill="#800080" stroke="#800080" stroke-width="0.4"/>
<path d="M813.96 622.31 L863.82 616.80 A50.27 43.71 0 0 1 857.49 644.17 Z" fill="#ff8080" stroke="#ff8080" stroke-width="0.4"/>
<path d="M813.96 622.31 L768.72 641.38 A50.27 43.71 0 0 0 774.00 648.84 Z" fill="#e0c818"/>
<text transform="translate(835.72 636.01) scale(0.890 1)" font-size="7.9" text-anchor="middle" fill="#141414">Missing : 0</text>
<text transform="translate(824.92 644.75) scale(0.890 1)" font-size="7.9" text-anchor="middle" fill="#141414">Insufficient : 11</text>
<text transform="translate(799.11 642.71) scale(0.890 1)" font-size="7.9" text-anchor="middle" fill="#141414">Excess : 9</text>
<text transform="translate(789.02 627.83) scale(0.890 1)" font-size="7.9" text-anchor="middle" fill="#141414">Over Height : 6</text>
<text transform="translate(800.61 606.56) scale(0.890 1)" font-size="7.9" text-anchor="middle" fill="#141414">Low Height : 15</text>
<text transform="translate(820.24 603.92) scale(0.890 1)" font-size="7.9" text-anchor="middle" fill="#141414">Over Area : 0</text>
<text transform="translate(829.88 608.17) scale(0.890 1)" font-size="7.9" text-anchor="middle" fill="#141414">Low Area : 8</text>
<text transform="translate(838.05 618.85) scale(0.890 1)" font-size="7.9" text-anchor="middle" fill="#141414">ShiftX : 3</text>
<text transform="translate(838.89 622.32) scale(0.890 1)" font-size="7.9" text-anchor="middle" fill="#141414">ShiftY : 0</text>
<text transform="translate(838.60 629.39) scale(0.890 1)" font-size="7.9" text-anchor="middle" fill="#141414">Bridge : 6</text>
<text transform="translate(835.72 636.01) scale(0.890 1)" font-size="7.9" text-anchor="middle" fill="#141414">Shape Error : 0</text>
<text transform="translate(835.72 636.01) scale(0.890 1)" font-size="7.9" text-anchor="middle" fill="#141414">Smeared : 0</text>
<text transform="translate(835.72 636.01) scale(0.890 1)" font-size="7.9" text-anchor="middle" fill="#141414">Coplanarity : 0</text>
<text transform="translate(835.72 636.01) scale(0.890 1)" font-size="7.9" text-anchor="middle" fill="#141414">PreBridge : 0</text>
<text transform="translate(835.72 636.01) scale(0.890 1)" font-size="7.9" text-anchor="middle" fill="#141414">PadArea Error : 0</text>
<rect x="132.00" y="686.20" width="829.00" height="1.10" fill="#fbfbfb" />
<rect x="132.00" y="687.30" width="828.00" height="0.90" fill="#cfcfcf" />
<rect x="132.00" y="688.20" width="828.00" height="13.30" fill="#f1efef" />
<line x1="132.60" y1="689.20" x2="132.60" y2="700.40" stroke="#9a9a9a" stroke-width="0.8" />
<line x1="249.30" y1="689.20" x2="249.30" y2="700.40" stroke="#9a9a9a" stroke-width="0.8" />
<line x1="456.20" y1="689.20" x2="456.20" y2="700.40" stroke="#9a9a9a" stroke-width="0.8" />
<line x1="495.70" y1="689.20" x2="495.70" y2="700.40" stroke="#9a9a9a" stroke-width="0.8" />
<line x1="582.30" y1="689.20" x2="582.30" y2="700.40" stroke="#9a9a9a" stroke-width="0.8" />
<line x1="686.40" y1="689.20" x2="686.40" y2="700.40" stroke="#9a9a9a" stroke-width="0.8" />
<line x1="783.40" y1="689.20" x2="783.40" y2="700.40" stroke="#9a9a9a" stroke-width="0.8" />
<text x="469.00" y="698.00" font-size="8" fill="#2f7de0" font-weight="bold" textLength="12.40" lengthAdjust="spacingAndGlyphs">um</text>
<text x="499.00" y="698.00" font-size="8" fill="#111" textLength="47.60" lengthAdjust="spacingAndGlyphs">Record Num</text>
<text x="578.80" y="698.00" font-size="8" text-anchor="end" fill="#4a90e8" textLength="9.00" lengthAdjust="spacingAndGlyphs">88</text>
<text x="585.50" y="698.00" font-size="8" fill="#111" textLength="64.50" lengthAdjust="spacingAndGlyphs">Inspect Pad Num</text>
<text x="681.60" y="698.00" font-size="8" text-anchor="end" fill="#4a90e8">0</text>
<text x="689.70" y="698.00" font-size="8" fill="#111" textLength="58.80" lengthAdjust="spacingAndGlyphs">Select Pad Num</text>
<text x="780.40" y="698.00" font-size="8" text-anchor="end" fill="#4a90e8">0</text>
</g>
<g id="judge-big">
<rect x="132.00" y="801.80" width="818.00" height="304.40" fill="#fff" />
<rect x="132.00" y="801.80" width="818.00" height="1.60" fill="#666" />
<rect x="132.00" y="803.40" width="818.00" height="2.50" fill="#f6f6f6" />
<rect x="132.00" y="805.90" width="818.00" height="2.20" fill="#848484" />
<rect x="132.00" y="808.10" width="818.00" height="2.90" fill="#f2f2f2" />
<rect x="947.00" y="808.10" width="3.00" height="296.60" fill="#f0f0f0" />
<rect x="132.00" y="1101.20" width="818.00" height="3.50" fill="#f3f3f3" />
<rect x="132.00" y="1104.70" width="818.00" height="1.50" fill="#666" />
<rect x="132.00" y="1106.20" width="818.00" height="1.20" fill="#e9e9e9" />
<line x1="255.40" y1="1004.52" x2="908.15" y2="1004.52" stroke="#111" stroke-width="1.4" stroke-dasharray="1.5 1.5"/>
<line x1="255.40" y1="958.24" x2="908.15" y2="958.24" stroke="#111" stroke-width="1.4" stroke-dasharray="1.5 1.5"/>
<line x1="255.40" y1="911.96" x2="908.15" y2="911.96" stroke="#111" stroke-width="1.4" stroke-dasharray="1.5 1.5"/>
<line x1="255.40" y1="865.68" x2="908.15" y2="865.68" stroke="#111" stroke-width="1.4" stroke-dasharray="1.5 1.5"/>
<line x1="385.95" y1="865.68" x2="385.95" y2="1050.80" stroke="#111" stroke-width="1.4" stroke-dasharray="1.5 1.5"/>
<line x1="516.50" y1="865.68" x2="516.50" y2="1050.80" stroke="#111" stroke-width="1.4" stroke-dasharray="1.5 1.5"/>
<line x1="647.05" y1="865.68" x2="647.05" y2="1050.80" stroke="#111" stroke-width="1.4" stroke-dasharray="1.5 1.5"/>
<line x1="777.60" y1="865.68" x2="777.60" y2="1050.80" stroke="#111" stroke-width="1.4" stroke-dasharray="1.5 1.5"/>
<line x1="908.15" y1="865.68" x2="908.15" y2="1050.80" stroke="#111" stroke-width="1.4" stroke-dasharray="1.5 1.5"/>
<rect x="332.69" y="901.31" width="105.48" height="149.49" fill="#4169e1" />
<rect x="464.28" y="1048.90" width="104.44" height="1.90" fill="#e00000" />
<rect x="594.83" y="1048.90" width="104.44" height="1.90" fill="#0a6a0a" />
<line x1="255.40" y1="865.68" x2="255.40" y2="1055.20" stroke="#1a1a1a" stroke-width="1.9" />
<line x1="247.40" y1="1051.20" x2="908.15" y2="1051.20" stroke="#1a1a1a" stroke-width="1.9" />
<line x1="247.40" y1="1004.52" x2="255.40" y2="1004.52" stroke="#1a1a1a" stroke-width="1.615" />
<line x1="247.40" y1="958.24" x2="255.40" y2="958.24" stroke="#1a1a1a" stroke-width="1.615" />
<line x1="247.40" y1="911.96" x2="255.40" y2="911.96" stroke="#1a1a1a" stroke-width="1.615" />
<line x1="247.40" y1="865.68" x2="255.40" y2="865.68" stroke="#1a1a1a" stroke-width="1.615" />
<line x1="385.95" y1="1051.20" x2="385.95" y2="1055.20" stroke="#1a1a1a" stroke-width="1.615" />
<line x1="516.50" y1="1051.20" x2="516.50" y2="1055.20" stroke="#1a1a1a" stroke-width="1.615" />
<line x1="647.05" y1="1051.20" x2="647.05" y2="1055.20" stroke="#1a1a1a" stroke-width="1.615" />
<line x1="777.60" y1="1051.20" x2="777.60" y2="1055.20" stroke="#1a1a1a" stroke-width="1.615" />
<line x1="908.15" y1="1051.20" x2="908.15" y2="1055.20" stroke="#1a1a1a" stroke-width="1.615" />
<text transform="translate(243.40 1056.30) scale(0.918 1)" font-size="21.0" text-anchor="end" fill="#1a1a1a">0</text>
<text transform="translate(243.40 1010.02) scale(0.918 1)" font-size="21.0" text-anchor="end" fill="#1a1a1a">50000</text>
<text transform="translate(243.40 963.74) scale(0.918 1)" font-size="21.0" text-anchor="end" fill="#1a1a1a">100000</text>
<text transform="translate(243.40 917.46) scale(0.918 1)" font-size="21.0" text-anchor="end" fill="#1a1a1a">150000</text>
<text transform="translate(243.40 871.18) scale(0.918 1)" font-size="21.0" text-anchor="end" fill="#1a1a1a">200000</text>
<text transform="translate(255.90 1080.80) scale(0.918 1)" font-size="21.0" text-anchor="middle" fill="#1a1a1a">0</text>
<text transform="translate(386.45 1080.80) scale(0.918 1)" font-size="21.0" text-anchor="middle" fill="#1a1a1a">1</text>
<text transform="translate(517.00 1080.80) scale(0.918 1)" font-size="21.0" text-anchor="middle" fill="#1a1a1a">2</text>
<text transform="translate(647.55 1080.80) scale(0.918 1)" font-size="21.0" text-anchor="middle" fill="#1a1a1a">3</text>
<text transform="translate(778.10 1080.80) scale(0.918 1)" font-size="21.0" text-anchor="middle" fill="#1a1a1a">4</text>
<text transform="translate(908.65 1080.80) scale(0.918 1)" font-size="21.0" text-anchor="middle" fill="#1a1a1a">5</text>
<text transform="translate(385.45 888.41) scale(0.937 1)" font-size="17.2" text-anchor="middle" fill="#1a1a1a">Good : 160541</text>
<text transform="translate(516.00 1039.60) scale(0.937 1)" font-size="17.2" text-anchor="middle" fill="#1a1a1a">NG : 58</text>
<text transform="translate(646.55 1039.60) scale(0.937 1)" font-size="17.2" text-anchor="middle" fill="#1a1a1a">Pass : 1</text>
<text transform="translate(777.10 1039.60) scale(0.937 1)" font-size="17.2" text-anchor="middle" fill="#1a1a1a">UnMeasured : 0</text>
<text x="537.40" y="839.20" font-size="17.5" text-anchor="middle" fill="#1a1a1a" textLength="278.50" lengthAdjust="spacingAndGlyphs">Judge Result Chart [Total:160600]</text>
</g>
<g id="defect-big">
<rect x="132.00" y="1183.00" width="830.00" height="2.30" fill="#ececec" />
<defs><linearGradient id="ysideb" x1="0" y1="0" x2="1" y2="0"><stop offset="0" stop-color="#9c9c1c"/><stop offset="0.5" stop-color="#b8b81c"/><stop offset="1" stop-color="#dcdc20"/></linearGradient></defs>
<rect x="156.60" y="1225.30" width="26.00" height="10.20" fill="#ff0000" />
<text transform="translate(189.30 1235.30) scale(0.920 1)" font-size="14.2" fill="#1a1a1a">Missing : 0</text>
<rect x="156.60" y="1241.90" width="26.00" height="10.20" fill="#0000ff" />
<text transform="translate(189.30 1251.90) scale(0.920 1)" font-size="14.2" fill="#1a1a1a">Insufficient : 11</text>
<rect x="156.60" y="1258.50" width="26.00" height="10.20" fill="#e6e620" />
<text transform="translate(189.30 1268.50) scale(0.920 1)" font-size="14.2" fill="#1a1a1a">Excess : 9</text>
<rect x="156.60" y="1275.10" width="26.00" height="10.20" fill="#ff00ff" />
<text transform="translate(189.30 1285.10) scale(0.920 1)" font-size="14.2" fill="#1a1a1a">Over Height : 6</text>
<rect x="156.60" y="1291.70" width="26.00" height="10.20" fill="#00ffff" />
<text transform="translate(189.30 1301.70) scale(0.920 1)" font-size="14.2" fill="#1a1a1a">Low Height : 15</text>
<rect x="156.60" y="1308.30" width="26.00" height="10.20" fill="#808080" />
<text transform="translate(189.30 1318.30) scale(0.920 1)" font-size="14.2" fill="#1a1a1a">Over Area : 0</text>
<rect x="156.60" y="1324.90" width="26.00" height="10.20" fill="#008080" />
<text transform="translate(189.30 1334.90) scale(0.920 1)" font-size="14.2" fill="#1a1a1a">Low Area : 8</text>
<rect x="156.60" y="1341.50" width="26.00" height="10.20" fill="#800080" />
<text transform="translate(189.30 1351.50) scale(0.920 1)" font-size="14.2" fill="#1a1a1a">ShiftX : 3</text>
<rect x="295.40" y="1225.30" width="26.00" height="10.20" fill="#808000" />
<text transform="translate(328.10 1235.30) scale(0.920 1)" font-size="14.2" fill="#1a1a1a">ShiftY : 0</text>
<rect x="295.40" y="1241.90" width="26.00" height="10.20" fill="#ff8080" />
<text transform="translate(328.10 1251.90) scale(0.920 1)" font-size="14.2" fill="#1a1a1a">Bridge : 6</text>
<rect x="295.40" y="1258.50" width="26.00" height="10.20" fill="#80ff80" />
<text transform="translate(328.10 1268.50) scale(0.920 1)" font-size="14.2" fill="#1a1a1a">Shape Error : 0</text>
<rect x="295.40" y="1275.10" width="26.00" height="10.20" fill="#408040" />
<text transform="translate(328.10 1285.10) scale(0.920 1)" font-size="14.2" fill="#1a1a1a">Smeared : 0</text>
<rect x="295.40" y="1291.70" width="26.00" height="10.20" fill="#8080ff" />
<text transform="translate(328.10 1301.70) scale(0.920 1)" font-size="14.2" fill="#1a1a1a">Coplanarity : 0</text>
<rect x="295.40" y="1308.30" width="26.00" height="10.20" fill="#4682b4" />
<text transform="translate(328.10 1318.30) scale(0.920 1)" font-size="14.2" fill="#1a1a1a">PreBridge : 0</text>
<rect x="295.40" y="1324.90" width="26.00" height="10.20" fill="#008080" />
<text transform="translate(328.10 1334.90) scale(0.920 1)" font-size="14.2" fill="#1a1a1a">PadArea Error : 0</text>
<text x="542.30" y="1208.20" font-size="15" text-anchor="middle" fill="#1a1a1a" textLength="178.10" lengthAdjust="spacingAndGlyphs">Defect Type Chart [Total:58]</text>
<path d="M784.87 1346.40 A92.00 80.00 0 0 1 691.96 1385.57 L691.96 1396.57 A92.00 80.00 0 0 0 784.87 1357.40 Z" fill="#0000c8"/>
<path d="M691.96 1385.57 A92.00 80.00 0 0 1 622.41 1341.30 L622.41 1352.30 A92.00 80.00 0 0 0 691.96 1396.57 Z" fill="url(#ysideb)"/>
<path d="M622.41 1341.30 A92.00 80.00 0 0 1 613.20 1306.40 L613.20 1317.40 A92.00 80.00 0 0 0 622.41 1352.30 Z" fill="#a000a0"/>
<path d="M797.20 1306.40 A92.00 80.00 0 0 1 784.87 1346.40 L784.87 1357.40 A92.00 80.00 0 0 0 797.20 1317.40 Z" fill="#c86464"/>
<path d="M705.20 1306.40 L784.87 1346.40 A92.00 80.00 0 0 1 691.96 1385.57 Z" fill="#0000ff" stroke="#0000ff" stroke-width="0.4"/>
<path d="M705.20 1306.40 L691.96 1385.57 A92.00 80.00 0 0 1 622.41 1341.30 Z" fill="#e6e620" stroke="#e6e620" stroke-width="0.4"/>
<path d="M705.20 1306.40 L622.41 1341.30 A92.00 80.00 0 0 1 615.01 1290.62 Z" fill="#ff00ff" stroke="#ff00ff" stroke-width="0.4"/>
<path d="M705.20 1306.40 L615.01 1290.62 A92.00 80.00 0 0 1 728.21 1228.94 Z" fill="#00ffff" stroke="#00ffff" stroke-width="0.4"/>
<path d="M705.20 1306.40 L728.21 1228.94 A92.00 80.00 0 0 1 787.99 1271.50 Z" fill="#008080" stroke="#008080" stroke-width="0.4"/>
<path d="M705.20 1306.40 L787.99 1271.50 A92.00 80.00 0 0 1 796.47 1296.32 Z" fill="#800080" stroke="#800080" stroke-width="0.4"/>
<path d="M705.20 1306.40 L796.47 1296.32 A92.00 80.00 0 0 1 784.87 1346.40 Z" fill="#ff8080" stroke="#ff8080" stroke-width="0.4"/>
<path d="M705.20 1306.40 L622.41 1341.30 A92.00 80.00 0 0 0 632.08 1354.95 Z" fill="#e0c818"/>
<text transform="translate(745.04 1331.47) scale(0.890 1)" font-size="14.5" text-anchor="middle" fill="#141414">Missing : 0</text>
<text transform="translate(725.27 1347.47) scale(0.890 1)" font-size="14.5" text-anchor="middle" fill="#141414">Insufficient : 11</text>
<text transform="translate(678.03 1343.75) scale(0.890 1)" font-size="14.5" text-anchor="middle" fill="#141414">Excess : 9</text>
<text transform="translate(659.57 1316.52) scale(0.890 1)" font-size="14.5" text-anchor="middle" fill="#141414">Over Height : 6</text>
<text transform="translate(680.78 1277.58) scale(0.890 1)" font-size="14.5" text-anchor="middle" fill="#141414">Low Height : 15</text>
<text transform="translate(716.70 1272.75) scale(0.890 1)" font-size="14.5" text-anchor="middle" fill="#141414">Over Area : 0</text>
<text transform="translate(734.34 1280.53) scale(0.890 1)" font-size="14.5" text-anchor="middle" fill="#141414">Low Area : 8</text>
<text transform="translate(749.29 1300.08) scale(0.890 1)" font-size="14.5" text-anchor="middle" fill="#141414">ShiftX : 3</text>
<text transform="translate(750.83 1306.43) scale(0.890 1)" font-size="14.5" text-anchor="middle" fill="#141414">ShiftY : 0</text>
<text transform="translate(750.30 1319.37) scale(0.890 1)" font-size="14.5" text-anchor="middle" fill="#141414">Bridge : 6</text>
<text transform="translate(745.04 1331.47) scale(0.890 1)" font-size="14.5" text-anchor="middle" fill="#141414">Shape Error : 0</text>
<text transform="translate(745.04 1331.47) scale(0.890 1)" font-size="14.5" text-anchor="middle" fill="#141414">Smeared : 0</text>
<text transform="translate(745.04 1331.47) scale(0.890 1)" font-size="14.5" text-anchor="middle" fill="#141414">Coplanarity : 0</text>
<text transform="translate(745.04 1331.47) scale(0.890 1)" font-size="14.5" text-anchor="middle" fill="#141414">PreBridge : 0</text>
<text transform="translate(745.04 1331.47) scale(0.890 1)" font-size="14.5" text-anchor="middle" fill="#141414">PadArea Error : 0</text>
</g>
</svg>
</body></html>
